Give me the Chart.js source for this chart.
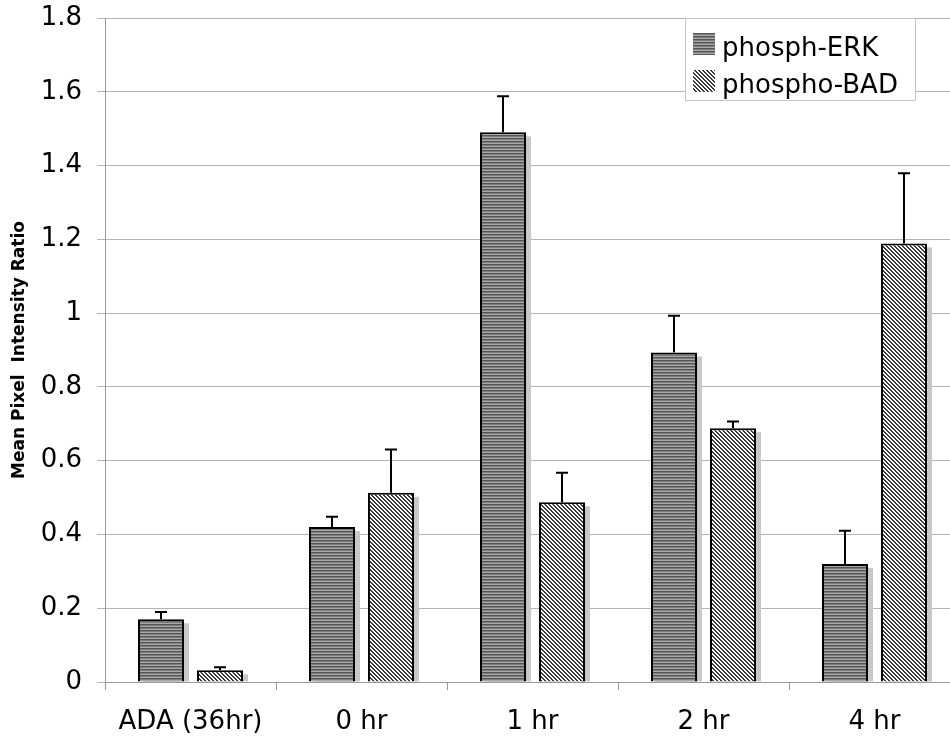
<!DOCTYPE html>
<html>
<head>
<meta charset="utf-8">
<script src="https://cdn.jsdelivr.net/npm/chart.js@4"></script>
<style>
  html, body { margin: 0; padding: 0; background: #fff; overflow: hidden; }
  canvas { display: block; }
</style>
</head>
<body>
<canvas id="erk-bad" width="960" height="738"></canvas>
<script>
var categories = ['ADA (36hr)', '0 hr', '1 hr', '2 hr', '4 hr'];
var seriesNames = ['phosph-ERK', 'phospho-BAD'];
var erkValues = [0.17, 0.42, 1.49, 0.893, 0.32];
var erkErrors = [0.02, 0.028, 0.098, 0.1, 0.09];
var badValues = [0.032, 0.513, 0.487, 0.688, 1.189];
var badErrors = [0.008, 0.117, 0.08, 0.018, 0.19];
var yTickLabels = ['0', '0.2', '0.4', '0.6', '0.8', '1', '1.2', '1.4', '1.6', '1.8'];
var yTitle = 'Mean Pixel  Intensity Ratio';

// hatch fills
function makePattern(draw, w, h) {
  var c = document.createElement('canvas');
  c.width = w; c.height = h;
  draw(c.getContext('2d'));
  return c.getContext('2d').createPattern(c, 'repeat');
}
var erkFill = makePattern(function (g) {
  g.fillStyle = '#a8a8a8'; g.fillRect(0, 0, 4, 3);
  g.fillStyle = '#555555'; g.fillRect(0, 0, 4, 1);
  g.fillStyle = '#7e7e7e'; g.fillRect(0, 1, 4, 1);
}, 4, 3);
var badFill = makePattern(function (g) {
  g.fillStyle = '#ffffff'; g.fillRect(0, 0, 4, 4);
  g.fillStyle = '#3a3a3a';
  for (var i = 0; i < 4; i++) { g.fillRect(i, i, 1, 1); g.fillRect((i + 1) % 4, i, 1, 1); }
}, 4, 4);
var fills = [erkFill, badFill];
var errors = [erkErrors, badErrors];

var shadowPlugin = {
  id: 'shadows',
  beforeDatasetsDraw: function (chart) {
    var ctx = chart.ctx;
    ctx.save();
    ctx.fillStyle = '#c8c8c8';
    chart.data.datasets.forEach(function (ds, di) {
      chart.getDatasetMeta(di).data.forEach(function (bar) {
        var p = bar.getProps(['x', 'y', 'base', 'width'], true);
        ctx.fillRect(p.x - p.width / 2 + 5, p.y + 4, p.width, p.base - p.y - 4);
      });
    });
    ctx.restore();
  }
};

var errorBarPlugin = {
  id: 'errorBars',
  afterDatasetsDraw: function (chart) {
    var ctx = chart.ctx;
    var yScale = chart.scales.y;
    ctx.save();
    ctx.strokeStyle = '#000';
    ctx.lineWidth = 2;
    chart.data.datasets.forEach(function (ds, di) {
      chart.getDatasetMeta(di).data.forEach(function (bar, i) {
        var p = bar.getProps(['x', 'y'], true);
        var top = yScale.getPixelForValue(ds.data[i] + errors[di][i]);
        ctx.beginPath();
        ctx.moveTo(p.x, p.y);
        ctx.lineTo(p.x, top);
        ctx.moveTo(p.x - 6, top);
        ctx.lineTo(p.x + 6, top);
        ctx.stroke();
      });
    });
    ctx.restore();
  }
};

var legendPlugin = {
  id: 'boxLegend',
  afterDraw: function (chart) {
    var ctx = chart.ctx;
    ctx.save();
    ctx.fillStyle = '#fff';
    ctx.fillRect(685, 18, 230, 82);
    ctx.strokeStyle = '#c4c4c4';
    ctx.lineWidth = 1;
    ctx.strokeRect(685.5, 18.5, 230, 82);
    ctx.font = '26px "DejaVu Sans"';
    ctx.textBaseline = 'alphabetic';
    seriesNames.forEach(function (name, i) {
      var y = 33 + i * 37;
      ctx.fillStyle = fills[i];
      ctx.fillRect(693, y, 22, 22);
      ctx.fillStyle = '#000';
      ctx.fillText(name, 722, y + 23);
    });
    ctx.restore();
  }
};

new Chart(document.getElementById('erk-bad').getContext('2d'), {
  type: 'bar',
  data: {
    labels: categories,
    datasets: [{
      label: seriesNames[0],
      data: erkValues,
      backgroundColor: erkFill,
      borderColor: '#000',
      borderWidth: 2
    }, {
      label: seriesNames[1],
      data: badValues,
      backgroundColor: badFill,
      borderColor: '#000',
      borderWidth: 2
    }]
  },
  options: {
    responsive: false,
    animation: false,
    layout: { padding: { top: 18, right: 0, left: 0, bottom: 0 } },
    categoryPercentage: 0.69,
    barPercentage: 0.78,
    plugins: { legend: { display: false }, tooltip: { enabled: false } },
    scales: {
      x: {
        afterFit: function (s) { s.height = 56; s.paddingLeft = 0; s.paddingRight = 0; },
        grid: { offset: true, drawOnChartArea: false, color: '#999', tickLength: 8 },
        border: { color: '#999', width: 1 },
        ticks: { color: '#000', font: { family: 'DejaVu Sans', size: 26 }, padding: 17 }
      },
      y: {
        min: 0, max: 1.8,
        afterFit: function (s) { s.width = 105; s.paddingTop = 0; s.paddingBottom = 0; },
        grid: { color: '#b4b4b4', tickLength: 8 },
        border: { color: '#999', width: 1 },
        ticks: {
          stepSize: 0.2, color: '#000', padding: 15,
          font: { family: 'DejaVu Sans', size: 26 },
          callback: function (v, i) { return yTickLabels[i]; }
        },
        title: {
          display: true, text: yTitle, color: '#000',
          font: { family: 'DejaVu Sans', size: 17, weight: 'bold' },
          padding: { top: 9, bottom: 0 }
        }
      }
    }
  },
  plugins: [shadowPlugin, errorBarPlugin, legendPlugin]
});
</script>
</body>
</html>
